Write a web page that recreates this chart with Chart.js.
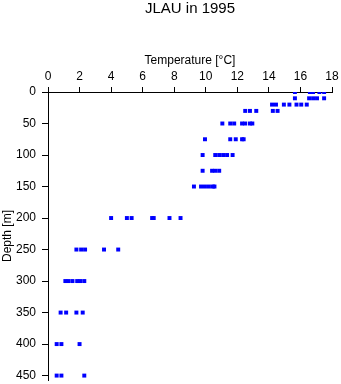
<!DOCTYPE html>
<html>
<head>
<meta charset="utf-8">
<script src="https://cdn.jsdelivr.net/npm/chart.js@4/dist/chart.umd.min.js"></script>
<style>
	body { margin: 0; background: #fff; }
	canvas { display: block; }
</style>
</head>
<body>
<canvas id="chart" width="341" height="384"></canvas>
<script>
// depth levels [m] and the temperatures [°C] measured at each level
const depths = [0, 10, 20, 30, 50, 75, 100, 125, 150, 200, 250, 300, 350, 400, 450];
const temps0 = [15.65, 16.6, 16.8, 17.2, 17.5];
const temps10 = [15.65, 16.55, 16.8, 17.05, 17.5];
const temps20 = [14.2, 14.45, 14.95, 15.3, 15.75, 16.05, 16.4];
const temps30 = [12.5, 12.8, 13.2, 14.25, 14.55];
const temps50 = [11.05, 11.55, 11.8, 12.3, 12.5, 12.8, 12.95];
const temps75 = [9.95, 11.55, 11.9, 12.3, 12.4];
const temps100 = [9.8, 10.6, 10.85, 11.1, 11.35, 11.7];
const temps125 = [9.8, 10.4, 10.6, 10.85];
const temps150 = [9.25, 9.7, 9.95, 10.2, 10.45, 10.55];
const temps200 = [4.0, 5.0, 5.3, 6.6, 6.7, 7.7, 8.4];
const temps250 = [1.8, 2.1, 2.35, 3.55, 4.45];
const temps300 = [1.1, 1.3, 1.55, 1.85, 2.05, 2.3];
const temps350 = [0.8, 1.15, 1.8, 2.2];
const temps400 = [0.55, 0.85, 2.0];
const temps450 = [0.55, 0.85, 2.3];
const tempTicks = [0, 2, 4, 6, 8, 10, 12, 14, 16, 18];
const depthTicks = [0, 50, 100, 150, 200, 250, 300, 350, 400, 450];

const tempsByDepth = [temps0, temps10, temps20, temps30, temps50, temps75, temps100,
	temps125, temps150, temps200, temps250, temps300, temps350, temps400, temps450];

const points = [];
depths.forEach((depth, i) => {
	tempsByDepth[i].forEach((t) => points.push({ x: t, y: depth }));
});

const font = { family: '"Liberation Sans", Arial, sans-serif', size: 12 };

// drop the extra room chart.js keeps for the end labels
function noEndPadding(scale) {
	scale.paddingTop = 0;
	scale.paddingBottom = 0;
	scale.paddingLeft = 0;
	scale.paddingRight = 0;
}

new Chart(document.getElementById('chart'), {
	type: 'scatter',
	data: {
		datasets: [{
			data: points,
			pointStyle: 'rect',
			pointRadius: 2.8,
			borderWidth: 0,
			backgroundColor: '#0000ff',
		}],
	},
	options: {
		responsive: false,
		animation: false,
		layout: { padding: { left: 0, right: 9, top: 0, bottom: 0 } },
		plugins: {
			legend: { display: false },
			tooltip: { enabled: false },
			title: {
				display: true,
				text: 'JLAU in 1995',
				fullSize: false,
				color: '#000',
				font: { family: font.family, size: 15, weight: 'normal' },
				padding: { top: 0, bottom: 0 },
			},
		},
		scales: {
			x: {
				type: 'linear',
				position: 'top',
				min: 0,
				max: 18,
				afterBuildTicks: (scale) => { scale.ticks = tempTicks.map((v) => ({ value: v })); },
				afterFit: (scale) => { scale.height = 74; noEndPadding(scale); },
				ticks: { color: '#000', font: font, padding: 3, maxRotation: 0 },
				grid: { drawOnChartArea: false, drawTicks: true, tickLength: 5, color: '#000' },
				border: { color: '#000', width: 1 },
				title: {
					display: true,
					text: 'Temperature [°C]',
					color: '#000',
					font: font,
					padding: { top: 35, bottom: 0 },
				},
			},
			y: {
				type: 'linear',
				reverse: true,
				min: 0,
				max: 457,
				afterBuildTicks: (scale) => { scale.ticks = depthTicks.map((v) => ({ value: v })); },
				afterFit: (scale) => { scale.width = 48; noEndPadding(scale); },
				ticks: { color: '#000', font: font, padding: 6 },
				grid: { drawOnChartArea: false, drawTicks: true, tickLength: 6, color: '#000' },
				border: { color: '#000', width: 1 },
				title: {
					display: true,
					text: 'Depth [m]',
					color: '#000',
					font: font,
					padding: { top: 0, bottom: 0 },
				},
			},
		},
	},
});
</script>
</body>
</html>
